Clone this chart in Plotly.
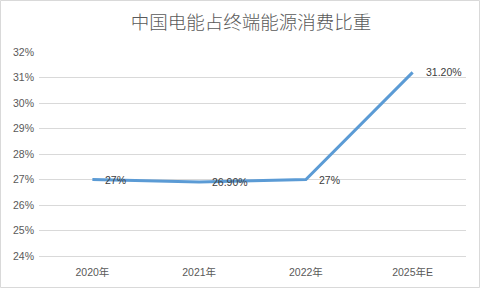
import plotly.graph_objects as go

# Share of electricity in China's final energy consumption (%)
years = ["2020年", "2021年", "2022年", "2025年E"]
share = [27, 26.9, 27, 31.2]
labels = ["27%", "26.90%", "27%", "31.20%"]
y_ticks = [24, 25, 26, 27, 28, 29, 30, 31, 32]

W, H = 481, 289
ML, MR, MT, MB = 39, 15, 52, 33
pw, ph = W - ML - MR, H - MT - MB

font_main = "Liberation Sans, Noto Sans CJK SC, sans-serif"
font_cjk = "Noto Sans CJK SC, sans-serif"

fig = go.Figure()
fig.add_trace(go.Scatter(
    x=years, y=share,
    mode="lines",
    line=dict(color="#5B9BD5", width=3),
    hoverinfo="skip",
))

# value labels to the right of each point
for xv, yv, txt in zip(years, share, labels):
    fig.add_annotation(
        x=xv, y=yv, text=txt, showarrow=False,
        xanchor="left", yanchor="middle", xshift=11,
        font=dict(size=10.5, color="#404040", family=font_main),
    )

fig.update_layout(
    width=W, height=H,
    margin=dict(l=ML, r=MR, t=MT, b=MB, pad=0),
    paper_bgcolor="white", plot_bgcolor="white",
    showlegend=False,
    title=dict(
        text="中国电能占终端能源消费比重",
        x=251 / W, xanchor="center",
        y=1 - 23 / H, yanchor="middle",
        font=dict(size=18.5, color="#595959", family=font_cjk, weight=300),
    ),
    xaxis=dict(
        type="category",
        range=[-0.5, 3.5],
        showgrid=False, zeroline=False,
        showline=True, linecolor="#D9D9D9", linewidth=1,
        ticks="", ticklen=0, ticklabelstandoff=6,
        tickfont=dict(size=10.5, color="#595959", family=font_main),
    ),
    yaxis=dict(
        range=[24, 32],
        tickvals=y_ticks,
        ticktext=[f"{v}%" for v in y_ticks],
        showgrid=True, gridcolor="#D9D9D9", gridwidth=1,
        zeroline=False, showline=False,
        ticks="", ticklen=0, ticklabelstandoff=4,
        tickfont=dict(size=10.5, color="#595959", family=font_main),
    ),
)

# light outer frame around the whole chart
fig.add_shape(
    type="rect", xref="paper", yref="paper",
    x0=-(ML - 0.5) / pw, x1=1 + (MR - 1.5) / pw,
    y0=-(MB - 1.5) / ph, y1=1 + (MT - 0.5) / ph,
    line=dict(color="#D9D9D9", width=1), fillcolor="rgba(0,0,0,0)",
    layer="below",
)

fig.write_html("out.html")
